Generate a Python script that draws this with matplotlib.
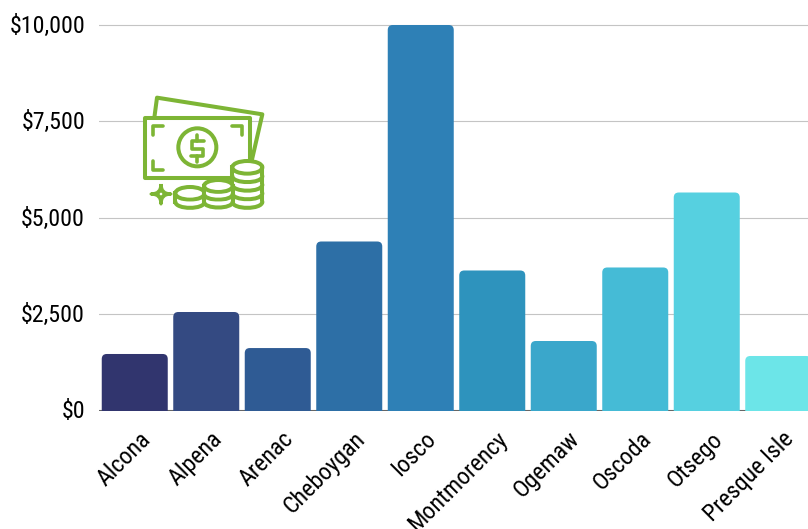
import matplotlib
matplotlib.use("Agg")
import matplotlib.pyplot as plt
from matplotlib import font_manager as fm
from matplotlib.patches import FancyBboxPatch, Ellipse, Circle, Polygon, Rectangle
from matplotlib.path import Path
from matplotlib.patches import PathPatch
from matplotlib.transforms import ScaledTranslation

categories = ["Alcona", "Alpena", "Arenac", "Cheboygan", "Iosco", "Montmorency",
              "Ogemaw", "Oscoda", "Otsego", "Presque Isle"]
values = [1466, 2555, 1620, 4384, 10000, 3632, 1803, 3710, 5655, 1414]
colors = ["#31356e", "#344a82", "#2f5b94", "#2d6fa6", "#2e80b6",
          "#2e93bd", "#3aa7cb", "#45bbd6", "#56d0e0", "#6ce5e8"]
y_ticks = [0, 2500, 5000, 7500, 10000]
y_labels = ["$0", "$2,500", "$5,000", "$7,500", "$10,000"]

names = {f.name for f in fm.fontManager.ttflist}
family = next((n for n in ["Roboto Condensed", "Liberation Sans Narrow", "Roboto"] if n in names), "DejaVu Sans")
plt.rcParams["font.family"] = family

W, H = 808, 529
fig = plt.figure(figsize=(W / 100, H / 100), dpi=100, facecolor="white")
L, R, T, B = 99.0, 814.0, 15.0, 410.5
ax = fig.add_axes([L / W, 1 - B / H, (R - L) / W, (B - T) / H])
ax.set_xlim(-0.5, 9.5)
y_top = 10000 * (B - T) / (B - 25.0)
ax.set_ylim(0, y_top)
ax.set_facecolor("none")
for s in ax.spines.values():
    s.set_visible(False)
ax.set_yticks(y_ticks, y_labels, fontsize=17.3, color="black")
ax.tick_params(axis="y", length=0, pad=10)
yoff = ScaledTranslation(0, 1 / 100, fig.dpi_scale_trans)
for t in ax.get_yticklabels():
    t.set_transform(t.get_transform() + yoff)
ax.yaxis.grid(True, color="#c4c4c4", lw=0.8)
ax.set_axisbelow(True)
ax.axhline(0, color="#666666", lw=1.5, zorder=1, clip_on=True)

bw = 66 / 71.5
ppx = 1 / 71.5
ppy = y_top / (B - T)
for i, (v, c) in enumerate(zip(values, colors)):
    r = 5.0
    extra = 20 * ppy
    p = FancyBboxPatch((i - bw / 2 + r * ppx, -extra), bw - 2 * r * ppx, v + extra - r * ppy,
                       boxstyle=f"round,pad={r * ppx},rounding_size={r * ppx}",
                       mutation_aspect=ppy / ppx, fc=c, ec="none", zorder=3)
    ax.add_patch(p)

ax.set_xticks(range(len(categories)), categories, fontsize=17.3, color="black")
ax.tick_params(axis="x", length=0, pad=0)
off = ScaledTranslation(4 / 100, -17 / 100, fig.dpi_scale_trans)
for t in ax.get_xticklabels():
    t.set_rotation(45)
    t.set_ha("right")
    t.set_va("top")
    t.set_rotation_mode("anchor")
    t.set_transform(t.get_transform() + off)

# money icon, drawn in pixel coordinates
ic = fig.add_axes([0, 0, 1, 1], facecolor="none")
ic.set_xlim(0, W)
ic.set_ylim(H, 0)
ic.axis("off")
G = "#7db535"
LW = 2.9
def z(x, y):
    return (130 + x / 3, 85 + y / 3)
def pl(pts, lw=LW):
    xs, ys = zip(*[z(*p) for p in pts])
    ic.plot(xs, ys, color=G, lw=lw, solid_capstyle="round", solid_joinstyle="round", zorder=5)

pl([(73, 98), (81, 38), (397, 88), (365, 228)])
ic.add_patch(Polygon([z(45, 98), z(360, 98), z(360, 280), z(45, 280)], closed=True, fc="white",
                     ec=G, lw=LW, joinstyle="round", zorder=5))
pl([(100, 122), (68, 122), (68, 150)], 2.6)
pl([(305, 122), (337, 122), (337, 150)], 2.6)
pl([(68, 228), (68, 256), (100, 256)], 2.6)
ic.add_patch(Circle(z(202, 187), 19.0, fc="none", ec=G, lw=LW, zorder=5))
pl([(222, 168), (186, 168), (186, 191), (220, 191), (220, 214), (184, 214)], 2.6)
pl([(202, 150), (202, 168)], 2.6)
pl([(202, 214), (202, 232)], 2.6)

cx, cy = z(93, 327)
rr = 10.0
verts = [(cx, cy - rr), (cx, cy), (cx + rr, cy), (cx, cy), (cx, cy + rr), (cx, cy), (cx - rr, cy), (cx, cy), (cx, cy - rr)]
codes = [Path.MOVETO] + [Path.CURVE3] * 8
ic.add_patch(PathPatch(Path(verts, codes), fc=G, ec=G, lw=2.2, joinstyle="round", zorder=5))
ic.add_patch(Circle((cx, cy), 1.3, fc="white", ec="none", zorder=5.5))

def stack(x, ytop, ybot, rx, ry, layers, zo):
    c = z(x, ytop)
    cb = z(x, ybot)
    rxp, ryp = rx / 3, ry / 3
    ic.add_patch(Rectangle((c[0] - rxp, c[1]), 2 * rxp, cb[1] - c[1], fc="white", ec="none", zorder=zo))
    ic.add_patch(Ellipse(c, 2 * rxp, 2 * ryp, fc="white", ec=G, lw=LW, zorder=zo))
    ic.plot([c[0] - rxp, c[0] - rxp], [c[1], cb[1]], color=G, lw=LW, zorder=zo)
    ic.plot([c[0] + rxp, c[0] + rxp], [c[1], cb[1]], color=G, lw=LW, zorder=zo)
    ys = [ytop + (ybot - ytop) * (k + 1) / layers for k in range(layers)]
    for yy in ys:
        m = z(x, yy)
        e = Path([(m[0] - rxp, m[1]), (m[0] - rxp, m[1] + ryp * 1.3), (m[0] + rxp, m[1] + ryp * 1.3), (m[0] + rxp, m[1])],
                 [Path.MOVETO, Path.CURVE4, Path.CURVE4, Path.CURVE4])
        ic.add_patch(PathPatch(e, fc="white", ec=G, lw=LW, zorder=zo, capstyle="round"))

stack(352, 247, 350, 45, 19, 4, 6)
stack(180, 325, 350, 44, 19, 1, 6)
stack(265, 303, 350, 43, 18, 2, 7)

fig.savefig("out.png", dpi=100)
print(family)
